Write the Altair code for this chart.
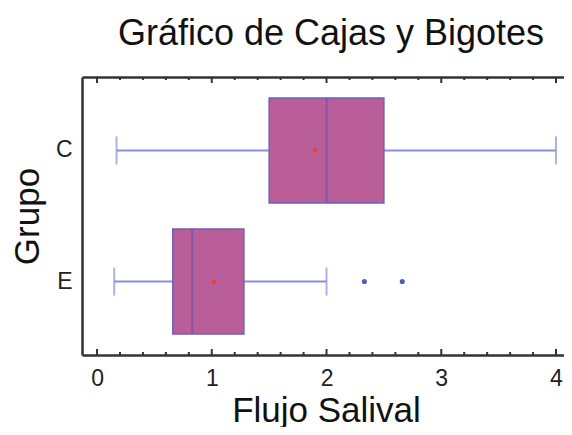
import altair as alt
import pandas as pd

# ---- data ----
grupos = ["C", "E"]
minimos = [0.17, 0.15]
q1 = [1.50, 0.66]
medianas = [2.00, 0.83]
q3 = [2.50, 1.28]
maximos = [4.00, 2.00]
medias = [1.90, 1.02]
atipicos_grupo = ["E", "E"]
atipicos_valor = [2.33, 2.66]
ticks_mayores = [0, 1, 2, 3, 4]
ticks_menores = [0.2, 0.4, 0.6, 0.8, 1.2, 1.4, 1.6, 1.8, 2.2, 2.4, 2.6, 2.8,
                 3.2, 3.4, 3.6, 3.8]

stats = pd.DataFrame({"Grupo": grupos, "min": minimos, "q1": q1, "med": medianas,
                      "q3": q3, "max": maximos, "media": medias})
outl = pd.DataFrame({"Grupo": atipicos_grupo, "v": atipicos_valor})
tmaj = pd.DataFrame({"t": ticks_mayores})
tmin = pd.DataFrame({"t": ticks_menores})

H = 278
W = 488
FONT = "Liberation Sans"
FRAME = "#333333"

xscale = alt.Scale(domain=[-0.131, 4.122], nice=False, zero=False)
yscale = alt.Scale(domain=grupos, paddingInner=0.2, paddingOuter=0.16)

xax = alt.Axis(values=ticks_mayores, format="d", ticks=False, domain=True,
               domainColor=FRAME, domainWidth=2.5, grid=False,
               labelFontSize=23, labelPadding=12, labelColor="#222",
               title="Flujo Salival", titleFontSize=35, titleFontWeight="normal",
               titleColor="#111", titlePadding=3, labelFont=FONT, titleFont=FONT)
xax_top = alt.Axis(orient="top", labels=False, ticks=False, domain=True,
                   domainColor=FRAME, domainWidth=2.5, grid=False, title=None)
yax = alt.Axis(ticks=False, domain=True, domainColor=FRAME, domainWidth=2.5,
               grid=False, labelFontSize=23, labelPadding=10, labelColor="#222",
               labelAngle=0, title="Grupo", titleFontSize=35,
               titleFontWeight="normal", titleColor="#111", titlePadding=10,
               labelFont=FONT, titleFont=FONT)

base = alt.Chart(stats)
Y = alt.Y("Grupo:N", sort=grupos)

whisk = base.mark_rule(color="#8A90DA", strokeWidth=2).encode(
    x=alt.X("min:Q", scale=xscale, axis=xax),
    x2="max:Q",
    y=alt.Y("Grupo:N", scale=yscale, axis=yax, sort=grupos),
)
caps_lo = base.mark_tick(color="#8A90DA", thickness=2, size=28, orient="vertical").encode(
    x=alt.X("min:Q", scale=xscale, axis=None), y=Y)
caps_hi = base.mark_tick(color="#8A90DA", thickness=2, size=28, orient="vertical").encode(
    x=alt.X("max:Q", scale=xscale, axis=None), y=Y)
box = base.mark_bar(color="#BA5E9A", stroke="#6C62B8", strokeWidth=1.5).encode(
    x=alt.X("q1:Q", scale=xscale, axis=None), x2="q3:Q", y=Y)
med = base.mark_tick(color="#6A52A8", thickness=2, size=105, orient="vertical").encode(
    x=alt.X("med:Q", scale=xscale, axis=None), y=Y)
mean = base.mark_point(color="#E8403A", filled=True, size=22, opacity=1).encode(
    x=alt.X("media:Q", scale=xscale, axis=None), y=Y)
outp = alt.Chart(outl).mark_point(color="#4C5CC0", filled=True, size=26, opacity=1).encode(
    x=alt.X("v:Q", scale=xscale, axis=None), y=Y)

top_maj = alt.Chart(tmaj).mark_rule(color=FRAME, strokeWidth=2).encode(
    x=alt.X("t:Q", scale=xscale, axis=xax_top), y=alt.value(0), y2=alt.value(6))
bot_maj = alt.Chart(tmaj).mark_rule(color=FRAME, strokeWidth=2).encode(
    x=alt.X("t:Q", scale=xscale, axis=None), y=alt.value(H), y2=alt.value(H - 6))
top_min = alt.Chart(tmin).mark_rule(color=FRAME, strokeWidth=2).encode(
    x=alt.X("t:Q", scale=xscale, axis=None), y=alt.value(0), y2=alt.value(3))
bot_min = alt.Chart(tmin).mark_rule(color=FRAME, strokeWidth=2).encode(
    x=alt.X("t:Q", scale=xscale, axis=None), y=alt.value(H), y2=alt.value(H - 3))

chart = alt.layer(
    whisk, caps_lo, caps_hi, box, med, mean, outp,
    top_maj, bot_maj, top_min, bot_min,
).resolve_axis(x="independent").properties(
    width=W, height=H,
    autosize=alt.AutoSizeParams(type="none"),
    padding={"left": 74, "top": 69, "right": -6, "bottom": 72},
    background="white",
    title=alt.TitleParams("Gráfico de Cajas y Bigotes", fontSize=36,
                          fontWeight="normal", font=FONT, color="#111",
                          anchor="middle", offset=23, dx=5),
).configure_view(
    stroke=None
)

chart.save("out.html", embed_options={"renderer": "svg", "actions": False})
